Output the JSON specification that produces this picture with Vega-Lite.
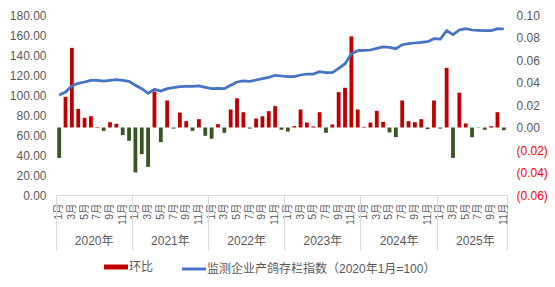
{
  "$schema": "https://vega.github.io/schema/vega-lite/v6.json",
  "width": 451,
  "height": 180,
  "autosize": {"type": "none"},
  "padding": {"left": 56, "top": 15, "right": 48, "bottom": 92},
  "background": "white",
  "config": {
    "view": {"stroke": null},
    "font": "Liberation Sans, Noto Sans CJK SC",
    "axis": {"labelColor": "#595959", "labelFontSize": 11.5, "grid": false, "labelFont": "Liberation Sans, Noto Sans CJK SC"},
    "legend": {"labelFont": "Liberation Sans, Noto Sans CJK SC"}
  },
  "data": {
    "values": [
      {"ym": "2020-01", "idx": 100, "mom": -0.027},
      {"ym": "2020-02", "idx": 103, "mom": 0.0273},
      {"ym": "2020-03", "idx": 109, "mom": 0.0708},
      {"ym": "2020-04", "idx": 111.7, "mom": 0.0166},
      {"ym": "2020-05", "idx": 113, "mom": 0.0086},
      {"ym": "2020-06", "idx": 114.7, "mom": 0.010},
      {"ym": "2020-07", "idx": 114.7, "mom": 0.0005},
      {"ym": "2020-08", "idx": 114, "mom": -0.003},
      {"ym": "2020-09", "idx": 114.7, "mom": 0.0047},
      {"ym": "2020-10", "idx": 115.3, "mom": 0.0033},
      {"ym": "2020-11", "idx": 114.7, "mom": -0.0068},
      {"ym": "2020-12", "idx": 113.7, "mom": -0.0118},
      {"ym": "2021-01", "idx": 109.7, "mom": -0.040},
      {"ym": "2021-02", "idx": 106.3, "mom": -0.0237},
      {"ym": "2021-03", "idx": 101.7, "mom": -0.035},
      {"ym": "2021-04", "idx": 105.7, "mom": 0.032},
      {"ym": "2021-05", "idx": 104, "mom": -0.013},
      {"ym": "2021-06", "idx": 106.3, "mom": 0.024},
      {"ym": "2021-07", "idx": 107.3, "mom": -0.001},
      {"ym": "2021-08", "idx": 108.3, "mom": 0.0133},
      {"ym": "2021-09", "idx": 108.7, "mom": 0.0056},
      {"ym": "2021-10", "idx": 108.7, "mom": -0.003},
      {"ym": "2021-11", "idx": 109, "mom": 0.0074},
      {"ym": "2021-12", "idx": 107.7, "mom": -0.0074},
      {"ym": "2022-01", "idx": 106.3, "mom": -0.010},
      {"ym": "2022-02", "idx": 106.7, "mom": 0.003},
      {"ym": "2022-03", "idx": 106.3, "mom": -0.0047},
      {"ym": "2022-04", "idx": 109.7, "mom": 0.016},
      {"ym": "2022-05", "idx": 113, "mom": 0.026},
      {"ym": "2022-06", "idx": 114, "mom": 0.0136},
      {"ym": "2022-07", "idx": 113.7, "mom": -0.001},
      {"ym": "2022-08", "idx": 115, "mom": 0.008},
      {"ym": "2022-09", "idx": 116.3, "mom": 0.010},
      {"ym": "2022-10", "idx": 117.7, "mom": 0.0145},
      {"ym": "2022-11", "idx": 119.7, "mom": 0.019},
      {"ym": "2022-12", "idx": 119, "mom": -0.002},
      {"ym": "2023-01", "idx": 118.3, "mom": -0.0036},
      {"ym": "2023-02", "idx": 118.3, "mom": 0.0012},
      {"ym": "2023-03", "idx": 120, "mom": 0.016},
      {"ym": "2023-04", "idx": 121, "mom": 0.0044},
      {"ym": "2023-05", "idx": 121, "mom": 0.001},
      {"ym": "2023-06", "idx": 123.3, "mom": 0.0136},
      {"ym": "2023-07", "idx": 122.3, "mom": -0.0047},
      {"ym": "2023-08", "idx": 122.3, "mom": 0.0027},
      {"ym": "2023-09", "idx": 126.7, "mom": 0.0314},
      {"ym": "2023-10", "idx": 131.3, "mom": 0.0353},
      {"ym": "2023-11", "idx": 141.3, "mom": 0.081},
      {"ym": "2023-12", "idx": 144.3, "mom": 0.016},
      {"ym": "2024-01", "idx": 144.7, "mom": 0.0006},
      {"ym": "2024-02", "idx": 145, "mom": 0.0044},
      {"ym": "2024-03", "idx": 146.7, "mom": 0.0148},
      {"ym": "2024-04", "idx": 148, "mom": 0.005},
      {"ym": "2024-05", "idx": 147.7, "mom": -0.0044},
      {"ym": "2024-06", "idx": 146.3, "mom": -0.0086},
      {"ym": "2024-07", "idx": 150.3, "mom": 0.024},
      {"ym": "2024-08", "idx": 151.3, "mom": 0.0056},
      {"ym": "2024-09", "idx": 152, "mom": 0.0047},
      {"ym": "2024-10", "idx": 152.7, "mom": 0.0074},
      {"ym": "2024-11", "idx": 153.3, "mom": -0.0015},
      {"ym": "2024-12", "idx": 156.3, "mom": 0.024},
      {"ym": "2025-01", "idx": 156, "mom": -0.001},
      {"ym": "2025-02", "idx": 164.3, "mom": 0.053},
      {"ym": "2025-03", "idx": 160.3, "mom": -0.027},
      {"ym": "2025-04", "idx": 165, "mom": 0.031},
      {"ym": "2025-05", "idx": 166.3, "mom": 0.0036},
      {"ym": "2025-06", "idx": 165, "mom": -0.0086},
      {"ym": "2025-07", "idx": 164.7, "mom": -0.0003},
      {"ym": "2025-08", "idx": 164.3, "mom": -0.002},
      {"ym": "2025-09", "idx": 164.3, "mom": 0.0012},
      {"ym": "2025-10", "idx": 166.3, "mom": 0.0136},
      {"ym": "2025-11", "idx": 166, "mom": -0.0024}
    ]
  },
  "layer": [
    {
      "mark": {"type": "bar", "width": {"band": 0.6}},
      "encoding": {
        "x": {
          "field": "ym", "type": "ordinal",
          "scale": {"paddingInner": 0, "paddingOuter": 0},
          "axis": {
            "orient": "bottom",
            "title": null,
            "labelAngle": 270,
            "labelOverlap": false,
            "labelExpr": "(toNumber(slice(datum.value,5)) % 2 == 1) ? (toNumber(slice(datum.value,5)) + '月') : ''",
            "bandPosition": 1,
            "ticks": true,
            "tickSize": 55,
            "tickColor": "#D9D9D9",
            "tickOpacity": {"condition": {"test": "datum.value == '2025-11'", "value": 1}, "value": 0},
            "domainColor": "#D9D9D9",
            "labelPadding": -47,
            "labelFontSize": 10.5
          }
        },
        "y": {
          "field": "mom", "type": "quantitative",
          "scale": {"domain": [-0.06, 0.10], "nice": false, "zero": true},
          "axis": {
            "orient": "right",
            "title": null,
            "values": [-0.06, -0.04, -0.02, 0, 0.02, 0.04, 0.06, 0.08, 0.1],
            "labelExpr": "datum.value < 0 ? '(' + format(-datum.value, '.2f') + ')' : format(datum.value, '.2f')",
            "labelColor": {"condition": {"test": "datum.value < 0", "value": "#FF0000"}, "value": "#595959"},
            "domain": false,
            "ticks": false,
            "labelPadding": 9,
            "labelFontSize": 12
          }
        },
        "color": {
          "condition": {"test": "datum.mom < 0", "value": "#375623"},
          "datum": "环比",
          "type": "nominal",
          "scale": {"domain": ["环比", "监测企业产鸽存栏指数（2020年1月=100）"], "range": ["#C00000", "#4472C4"]},
          "legend": {
            "orient": "none",
            "legendX": 54,
            "legendY": 246,
            "direction": "horizontal",
            "title": null,
            "symbolType": "stroke",
            "symbolSize": 576,
            "labelFontSize": 12,
            "labelColor": "#595959",
            "labelLimit": 400,
            "columnPadding": 22,
            "labelOffset": 7,
            "encode": {
              "symbols": {
                "update": {
                  "strokeWidth": {"signal": "datum.value === '环比' ? 5 : 3"},
                  "stroke": {"scale": "color", "field": "value"}
                }
              }
            }
          }
        }
      }
    },
    {
      "mark": {"type": "line", "strokeWidth": 2.75},
      "encoding": {
        "x": {
          "field": "ym", "type": "ordinal",
          "scale": {"paddingInner": 0, "paddingOuter": 0},
          "axis": {
            "orient": "bottom",
            "title": null,
            "values": ["2020-01", "2021-01", "2022-01", "2023-01", "2024-01", "2025-01"],
            "bandPosition": 0,
            "labelAngle": 0,
            "labelAlign": "center",
            "labelBaseline": "top",
            "labelExpr": "slice(datum.value,0,4) + '年'",
            "labelOffset": 35,
            "tickSize": 55,
            "tickColor": "#D9D9D9",
            "domain": false,
            "labelPadding": -15,
            "labelFontSize": 12
          }
        },
        "y": {
          "field": "idx", "type": "quantitative",
          "scale": {"domain": [0, 180], "nice": false},
          "axis": {
            "orient": "left",
            "title": null,
            "values": [0, 20, 40, 60, 80, 100, 120, 140, 160, 180],
            "format": ".2f",
            "domain": false,
            "ticks": false,
            "labelPadding": 10,
            "labelFontSize": 12
          }
        },
        "color": {"datum": "监测企业产鸽存栏指数（2020年1月=100）", "type": "nominal"}
      }
    }
  ],
  "resolve": {"scale": {"y": "independent"}, "axis": {"x": "independent"}}
}
